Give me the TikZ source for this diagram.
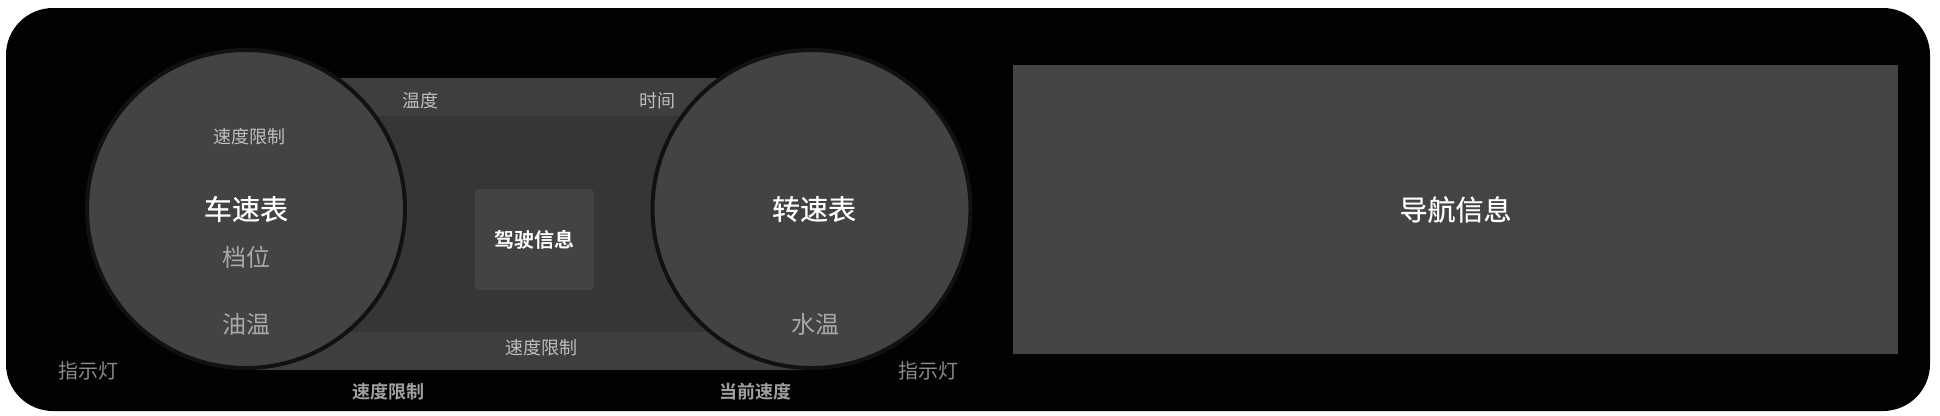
\documentclass[tikz,border=0pt]{standalone}
\usepackage{fontspec}
\setmainfont{Noto Sans CJK SC}
\newfontfamily\cjkb{Noto Sans CJK SC Bold}
\newfontfamily\cjkm[FakeBold=0.6]{Noto Sans CJK SC}
\definecolor{panelbg}{HTML}{030101}
\definecolor{dialfill}{HTML}{434343}
\definecolor{dialedge}{HTML}{111111}
\definecolor{bandout}{HTML}{3F3E3D}
\definecolor{bandin}{HTML}{383635}
\definecolor{navfill}{HTML}{444444}
\definecolor{txtmid}{HTML}{BEBEBE}
\definecolor{txtgray}{HTML}{A8A8A8}
\definecolor{txtbot}{HTML}{A0A0A0}
\definecolor{txtdim}{HTML}{8A8A8A}
\begin{document}
\begin{tikzpicture}[x=1pt,y=-1pt,
  dial/.style={circle,fill=dialfill,draw=dialedge,line width=4pt,minimum size=318pt,inner sep=0pt},
  bigtxt/.style={text=white,font=\cjkm\fontsize{28}{30}\selectfont,inner sep=0pt},
  midtxt/.style={text=txtgray,font=\fontsize{24}{26}\selectfont,inner sep=0pt},
  smalltxt/.style={text=txtmid,font=\fontsize{18}{20}\selectfont,inner sep=0pt},
  dimtxt/.style={text=txtdim,font=\fontsize{20}{22}\selectfont,inner sep=0pt},
  boldtxt/.style={text=txtbot,font=\cjkb\fontsize{18}{20}\selectfont,inner sep=0pt}]
\useasboundingbox (0,0) rectangle (1940,415);
\fill[white] (0,0) rectangle (1940,415);
\fill[panelbg,rounded corners=47pt] (6,8) rectangle (1930,411);
% middle panel
\fill[bandout] (246,78) rectangle (811,370);
\fill[bandin] (246,116) rectangle (811,332);
\node[fill=dialfill,rounded corners=4pt,minimum width=119pt,minimum height=101pt,inner sep=0pt] (drive) at (534.5,239.5) {};
\node[text=white,font=\cjkb\fontsize{20}{22}\selectfont,inner sep=0pt] (drivet) at (drive.center) {驾驶信息};
\node[smalltxt] (temp) at (420,101) {温度};
\node[smalltxt] (time) at (657,101) {时间};
\node[smalltxt] (limmid) at (541,348) {速度限制};
% dials
\node[dial] (speedo) at (246,209) {};
\node[dial] (tacho) at (811.5,209) {};
\node[smalltxt] (limtop) at (249,137) {速度限制};
\node[bigtxt] (speedt) at (246,209) {车速表};
\node[midtxt] (gear) at (246,257) {档位};
\node[midtxt] (oil) at (246,324) {油温};
\node[bigtxt] (tachot) at (814,209) {转速表};
\node[midtxt] (water) at (815,324) {水温};
% outside labels
\node[dimtxt] (indl) at (88,371) {指示灯};
\node[dimtxt] (indr) at (928,371) {指示灯};
\node[boldtxt] (limbot) at (388,392) {速度限制};
\node[boldtxt] (curspd) at (755,392) {当前速度};
% navigation
\node[fill=navfill,minimum width=885pt,minimum height=289pt,inner sep=0pt] (nav) at (1455.5,209.5) {};
\node[bigtxt] (navt) at (nav.center) {导航信息};
\end{tikzpicture}
\end{document}
